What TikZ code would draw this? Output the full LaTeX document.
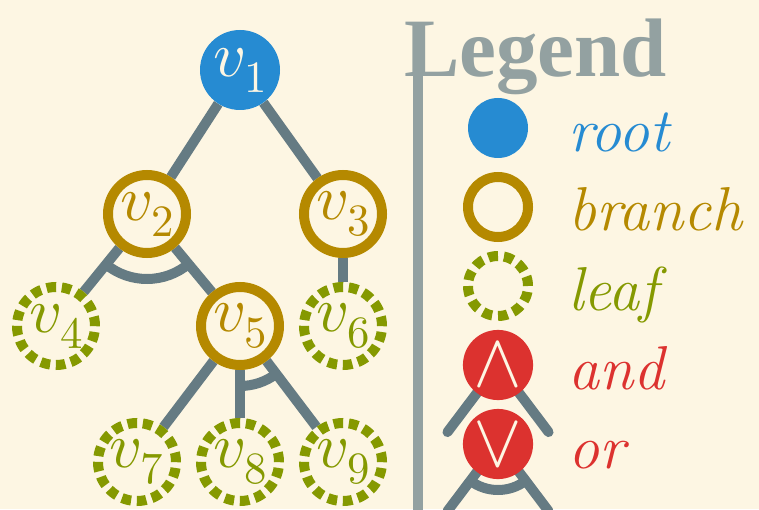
\documentclass[tikz,border=0pt]{standalone}
\usepackage{fontspec}
\usepackage{unicode-math}
\setmathfont{Latin Modern Math}
\newfontfamily\legendfont{Liberation Serif}
\usetikzlibrary{positioning}
\pgfdeclarelayer{bg}
\pgfsetlayers{bg,main}
\definecolor{paper}{HTML}{FDF6E3}
\definecolor{sblue}{HTML}{268BD2}
\definecolor{syellow}{HTML}{B58900}
\definecolor{sgreen}{HTML}{859900}
\definecolor{sred}{HTML}{DC322F}
\definecolor{slate}{HTML}{657B83}
\definecolor{legendgray}{HTML}{93A1A1}

\begin{document}
\begin{tikzpicture}[
  x=1pt, y=1pt,
  every node/.style={inner sep=0pt},
  vnode/.style={circle, minimum size=78pt, font=\fontsize{64}{64}\selectfont},
  rootnode/.style={vnode, fill=sblue, text=paper, minimum size=80pt},
  branchnode/.style={vnode, draw=syellow, line width=10pt, text=syellow},
  leafnode/.style={vnode, draw=sgreen, line width=10pt, text=sgreen, dash pattern=on 9.5pt off 5.8pt},
  link/.style={draw=slate, line width=10pt},
  key/.style={circle, minimum size=60pt, font=\fontsize{76}{76}\selectfont},
  keytext/.style={anchor=base west, font=\fontsize{62}{62}\selectfont\itshape},
  node distance=79pt
]
\useasboundingbox (0,0) rectangle (759,509);

% Tree
\node[rootnode] (v1) at (240,439) {$v_1$};
\node[branchnode] (v2) at (147,295) {$v_2$};
\node[branchnode] (v3) at (343,295) {$v_3$};
\node[leafnode] (v4) at (56,183) {$v_4$};
\node[branchnode] (v5) at (240,183) {$v_5$};
\node[leafnode] (v6) at (343,183) {$v_6$};
\node[leafnode] (v7) at (137,47) {$v_7$};
\node[leafnode] (v8) at (240,47) {$v_8$};
\node[leafnode] (v9) at (343,47) {$v_9$};

% Legend
\node[anchor=base west, text=legendgray, font=\legendfont\bfseries\fontsize{83}{83}\selectfont] (title) at (404,432) {Legend};
\coordinate (ruletop) at (418,470);
\coordinate (rulebot) at (418,-10);
\node[key, fill=sblue] (kroot) at (498,381) {};
\node[key, draw=syellow, line width=10pt, below of=kroot] (kbranch) {};
\node[key, draw=sgreen, line width=10pt, dash pattern=on 9.7pt off 6pt, below of=kbranch] (kleaf) {};
\node[key, fill=sred, text=paper, below of=kleaf] (kand) {$\wedge$};
\node[key, fill=sred, text=paper, below of=kand] (kor) {$\vee$};
\node[keytext, text=sblue] (troot) at ([xshift=70pt, yshift=-24pt]kroot.center) {root};
\node[keytext, text=syellow] (tbranch) at ([xshift=70pt, yshift=-24pt]kbranch.center) {branch};
\node[keytext, text=sgreen] (tleaf) at ([xshift=70pt, yshift=-24pt]kleaf.center) {leaf};
\node[keytext, text=sred] (tand) at ([xshift=70pt, yshift=-24pt]kand.center) {and};
\node[keytext, text=sred] (tor) at ([xshift=70pt, yshift=-24pt]kor.center) {or};
\coordinate (kandL) at ([shift={(233:84)}]kand.center);
\coordinate (kandR) at ([shift={(307:84)}]kand.center);
\coordinate (korL) at ([shift={(233:84)}]kor.center);
\coordinate (korR) at ([shift={(307:84)}]kor.center);

\begin{pgfonlayer}{bg}
\fill[paper] (0,0) rectangle (759,509);
\draw[legendgray, line width=10pt] (ruletop) -- (rulebot);
% Edges
\foreach \a/\b in {v1/v2, v1/v3, v2/v4, v2/v5, v3/v6, v5/v7, v5/v8, v5/v9}
  \draw[link] (\a) -- (\b);
\draw[link] ([shift={(231:65)}]v2.center) arc[start angle=231, end angle=310, radius=65];
\draw[link] ([shift={(270:60)}]v5.center) arc[start angle=270, end angle=307, radius=60];
% and / or keys
\foreach \k in {kand, kor} {
  \draw[link, line cap=round] (\k.center) -- (\k L);
  \draw[link, line cap=round] (\k.center) -- (\k R);
}
\draw[link] ([shift={(233:46)}]kor.center) arc[start angle=233, end angle=307, radius=46];
\end{pgfonlayer}
\end{tikzpicture}
\end{document}
